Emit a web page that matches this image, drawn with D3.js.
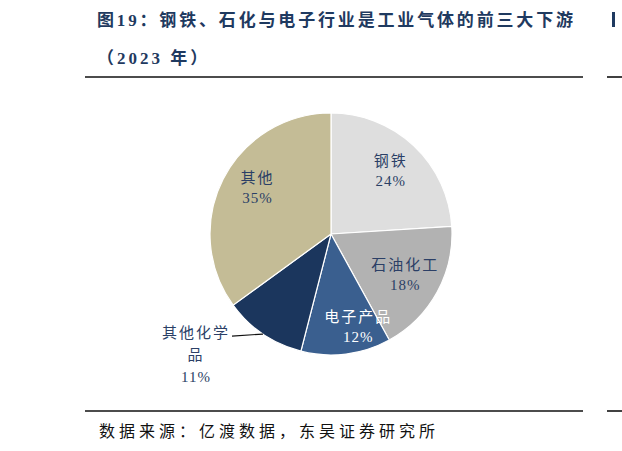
<!DOCTYPE html>
<html>
<head>
<meta charset="utf-8">
<script src="https://cdn.jsdelivr.net/npm/d3@7"></script>
<style>
  html, body { margin: 0; padding: 0; background: #fff; }
  svg { display: block; }
</style>
</head>
<body>
<svg id="chart" width="622" height="451"></svg>
<script>
// data
var categories = ["钢铁", "石油化工", "电子产品", "其他化学品", "其他"];
var shares = [24, 18, 12, 11, 35];
var labelLines = [["钢铁"], ["石油化工"], ["电子产品"], ["其他化学", "品"], ["其他"]];
var colors = ["#dedede", "#b2b2b2", "#3a5f8f", "#1b365d", "#c4bc96"];
var textColors = ["#2b3f66", "#2b3f66", "#ffffff", "#2b3f66", "#2b3f66"];
var labelRadius = [0.72, 0.7, 0.8, null, 0.72];   // null = outside with leader
var labelNudge = [[0, 0], [0, 0], [15, -3], [0, 0], [4, -7]];

var titleLines = ["图19：钢铁、石化与电子行业是工业气体的前三大下游", "（2023 年）"];
var sourceText = "数据来源：亿渡数据，东吴证券研究所";

var svg = d3.select("#chart");
var navy = "#1f3a60";
var labelFont = "'Liberation Serif', 'Noto Sans CJK SC', serif";

// title
svg.append("text")
    .attr("x", 97).attr("y", 26)
    .attr("textLength", 476).attr("lengthAdjust", "spacing")
    .style("font-family", labelFont)
    .style("font-weight", "bold").style("font-size", "17px")
    .attr("fill", navy)
    .text(titleLines[0]);
svg.append("text")
    .attr("x", 97).attr("y", 64)
    .style("font-family", labelFont)
    .style("font-weight", "bold").style("font-size", "17px")
    .style("letter-spacing", "3px")
    .attr("fill", navy)
    .text(titleLines[1]);

// neighbour chart's title edge, cut off at the right
svg.append("rect").attr("x", 612).attr("y", 12).attr("width", 3).attr("height", 15)
    .attr("fill", navy);

// rules
[77, 411].forEach(function (y) {
    svg.append("line").attr("x1", 85).attr("x2", 583).attr("y1", y).attr("y2", y)
        .attr("stroke", "#111").attr("stroke-width", 1.6);
    svg.append("line").attr("x1", 607).attr("x2", 622).attr("y1", y).attr("y2", y)
        .attr("stroke", "#111").attr("stroke-width", 1.6);
});

// source
svg.append("text")
    .attr("x", 99).attr("y", 437)
    .style("font-family", labelFont).style("font-size", "16px")
    .style("letter-spacing", "4px")
    .attr("fill", "#111")
    .text(sourceText);

// pie
var cx = 331, cy = 234, r = 121;
var pie = d3.pie().sort(null).value(function (d) { return d; });
var arcs = pie(shares);
var arc = d3.arc().innerRadius(0).outerRadius(r);

var g = svg.append("g").attr("transform", "translate(" + cx + "," + cy + ")");
g.selectAll("path.slice")
    .data(arcs)
    .enter().append("path")
    .attr("class", "slice")
    .attr("d", arc)
    .attr("fill", function (d, i) { return colors[i]; })
    .attr("stroke", "#fff")
    .attr("stroke-width", 1.2);

arcs.forEach(function (d, i) {
    var lines = labelLines[i].concat([shares[i] + "%"]);
    var x, y, lineH = 20;
    if (labelRadius[i] !== null) {
        var c = d3.arc().innerRadius(r * labelRadius[i]).outerRadius(r * labelRadius[i]).centroid(d);
        x = c[0] + labelNudge[i][0];
        y = c[1] + labelNudge[i][1] - (lines.length - 1) * lineH / 2;
    } else {
        // outside label with a leader line
        var edge = d3.arc().innerRadius(r).outerRadius(r).centroid(d);
        var elbow = [edge[0] - 31, edge[1] + 2];
        g.append("path")
            .attr("d", d3.line()([edge, elbow]))
            .attr("stroke", "#111").attr("stroke-width", 1.1).attr("fill", "none");
        x = elbow[0] - 36; y = elbow[1] - 3;
        lineH = 22;
    }
    var t = g.append("text")
        .attr("text-anchor", "middle")
        .style("font-family", labelFont).style("font-size", "15px")
        .attr("fill", textColors[i]);
    lines.forEach(function (s, k) {
        t.append("tspan").attr("x", x).attr("y", y + k * lineH).attr("dy", "0.35em")
            .style("letter-spacing", /%/.test(s) ? "1px" : "2px")
            .text(s);
    });
});
</script>
</body>
</html>
